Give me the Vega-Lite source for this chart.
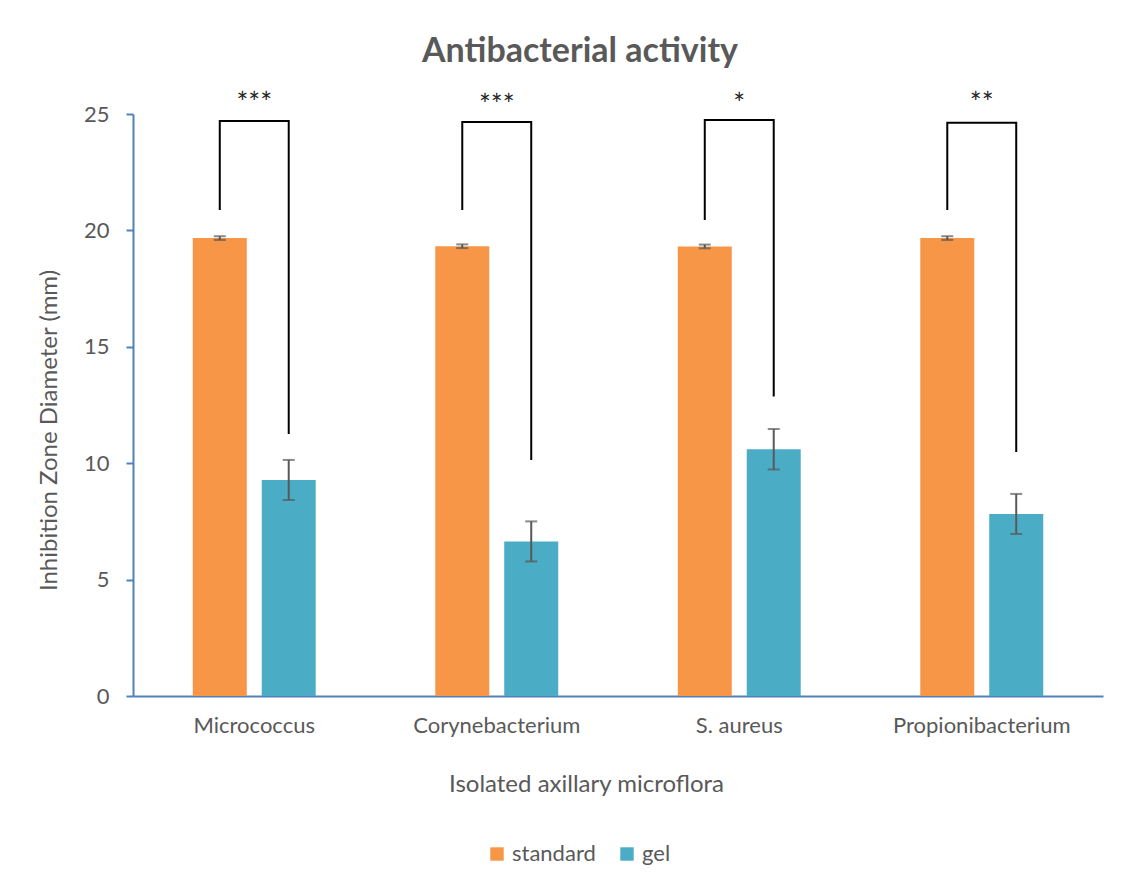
{
  "$schema": "https://vega.github.io/schema/vega-lite/v6.json",
  "autosize": "none",
  "width": 970,
  "height": 582,
  "padding": {"left": 133, "top": 114, "right": 35, "bottom": 197},
  "background": "white",
  "config": {
    "font": "Lato",
    "view": {"stroke": null},
    "axis": {"grid": false, "labelColor": "#595959", "titleColor": "#595959", "labelFont": "Lato", "titleFont": "Lato", "titleFontWeight": "normal"}
  },
  "title": {"text": "Antibacterial activity", "fontSize": 34, "fontWeight": "bold", "color": "#595959", "font": "Lato", "dx": -38, "offset": 22},
  "datasets": {
    "bars": [
      {"cat": "Micrococcus", "series": "standard", "value": 19.67, "err": 0.08},
      {"cat": "Micrococcus", "series": "gel", "value": 9.28, "err": 0.86},
      {"cat": "Corynebacterium", "series": "standard", "value": 19.32, "err": 0.08},
      {"cat": "Corynebacterium", "series": "gel", "value": 6.64, "err": 0.86},
      {"cat": "S. aureus", "series": "standard", "value": 19.31, "err": 0.08},
      {"cat": "S. aureus", "series": "gel", "value": 10.6, "err": 0.87},
      {"cat": "Propionibacterium", "series": "standard", "value": 19.67, "err": 0.08},
      {"cat": "Propionibacterium", "series": "gel", "value": 7.82, "err": 0.86}
    ],
    "brackets": [
      {"cat": "Micrococcus", "series": "standard", "y": 20.88, "ord": 1},
      {"cat": "Micrococcus", "series": "standard", "y": 24.7, "ord": 2},
      {"cat": "Micrococcus", "series": "gel", "y": 24.7, "ord": 3},
      {"cat": "Micrococcus", "series": "gel", "y": 11.25, "ord": 4},
      {"cat": "Corynebacterium", "series": "standard", "y": 20.88, "ord": 1},
      {"cat": "Corynebacterium", "series": "standard", "y": 24.66, "ord": 2},
      {"cat": "Corynebacterium", "series": "gel", "y": 24.66, "ord": 3},
      {"cat": "Corynebacterium", "series": "gel", "y": 10.14, "ord": 4},
      {"cat": "S. aureus", "series": "standard", "y": 20.45, "ord": 1},
      {"cat": "S. aureus", "series": "standard", "y": 24.74, "ord": 2},
      {"cat": "S. aureus", "series": "gel", "y": 24.74, "ord": 3},
      {"cat": "S. aureus", "series": "gel", "y": 12.86, "ord": 4},
      {"cat": "Propionibacterium", "series": "standard", "y": 20.88, "ord": 1},
      {"cat": "Propionibacterium", "series": "standard", "y": 24.62, "ord": 2},
      {"cat": "Propionibacterium", "series": "gel", "y": 24.62, "ord": 3},
      {"cat": "Propionibacterium", "series": "gel", "y": 10.48, "ord": 4}
    ],
    "stars": [
      {"cat": "Micrococcus", "label": "***", "y": 25.4},
      {"cat": "Corynebacterium", "label": "***", "y": 25.3},
      {"cat": "S. aureus", "label": "*", "y": 25.35},
      {"cat": "Propionibacterium", "label": "**", "y": 25.4}
    ]
  },
  "encoding": {
    "x": {
      "field": "cat", "type": "nominal",
      "sort": ["Micrococcus", "Corynebacterium", "S. aureus", "Propionibacterium"],
      "scale": {"paddingInner": 0.493, "paddingOuter": 0.2465},
      "axis": {"title": "Isolated axillary microflora", "labelAngle": 0, "labelFontSize": 22, "titleFontSize": 24, "ticks": false, "domainColor": "#4F81BD", "domainWidth": 2, "labelPadding": 19, "titlePadding": 36, "titleX": 453}
    }
  },
  "layer": [
    {
      "data": {"name": "bars"},
      "mark": {"type": "bar"},
      "encoding": {
        "xOffset": {"field": "series", "type": "nominal", "sort": ["standard", "gel"], "scale": {"paddingInner": 0.217, "paddingOuter": 0}},
        "y": {
          "field": "value", "type": "quantitative",
          "scale": {"domain": [0, 25], "nice": false},
          "axis": {"title": "Inhibition Zone Diameter (mm)", "values": [0, 5, 10, 15, 20, 25], "labelFontSize": 22, "titleFontSize": 24, "domainColor": "#4F81BD", "domainWidth": 2, "tickColor": "#4F81BD", "tickWidth": 2, "tickSize": 7, "labelPadding": 17, "titlePadding": 22, "titleY": 316}
        },
        "color": {
          "field": "series", "type": "nominal", "sort": ["standard", "gel"],
          "scale": {"domain": ["standard", "gel"], "range": ["#F79646", "#4BACC6"]},
          "legend": {"title": null, "orient": "none", "direction": "horizontal", "legendX": 353, "legendY": 729, "symbolType": "square", "symbolSize": 180, "symbolStrokeWidth": 0, "labelFontSize": 22, "labelColor": "#595959", "columnPadding": 20, "labelFont": "Lato"}
        }
      }
    },
    {
      "data": {"name": "bars"},
      "transform": [
        {"calculate": "datum.value - datum.err", "as": "lo"},
        {"calculate": "datum.value + datum.err", "as": "hi"}
      ],
      "mark": {"type": "rule", "color": "#595959", "strokeWidth": 2},
      "encoding": {
        "xOffset": {"field": "series", "type": "nominal", "sort": ["standard", "gel"]},
        "y": {"field": "lo", "type": "quantitative"},
        "y2": {"field": "hi"}
      }
    },
    {
      "data": {"name": "bars"},
      "transform": [{"calculate": "datum.value - datum.err", "as": "lo"}],
      "mark": {"type": "tick", "color": "#595959", "thickness": 2, "size": 12, "orient": "horizontal"},
      "encoding": {
        "xOffset": {"field": "series", "type": "nominal", "sort": ["standard", "gel"]},
        "y": {"field": "lo", "type": "quantitative"}
      }
    },
    {
      "data": {"name": "bars"},
      "transform": [{"calculate": "datum.value + datum.err", "as": "hi"}],
      "mark": {"type": "tick", "color": "#595959", "thickness": 2, "size": 12, "orient": "horizontal"},
      "encoding": {
        "xOffset": {"field": "series", "type": "nominal", "sort": ["standard", "gel"]},
        "y": {"field": "hi", "type": "quantitative"}
      }
    },
    {
      "data": {"name": "brackets"},
      "mark": {"type": "line", "color": "#000000", "strokeWidth": 2, "strokeJoin": "miter"},
      "encoding": {
        "xOffset": {"field": "series", "type": "nominal", "sort": ["standard", "gel"]},
        "y": {"field": "y", "type": "quantitative"},
        "detail": {"field": "cat"},
        "order": {"field": "ord", "type": "quantitative"}
      }
    },
    {
      "data": {"name": "stars"},
      "mark": {"type": "text", "fontSize": 28, "color": "#262626", "baseline": "middle", "font": "Lato"},
      "encoding": {
        "y": {"field": "y", "type": "quantitative"},
        "text": {"field": "label"}
      }
    }
  ]
}
